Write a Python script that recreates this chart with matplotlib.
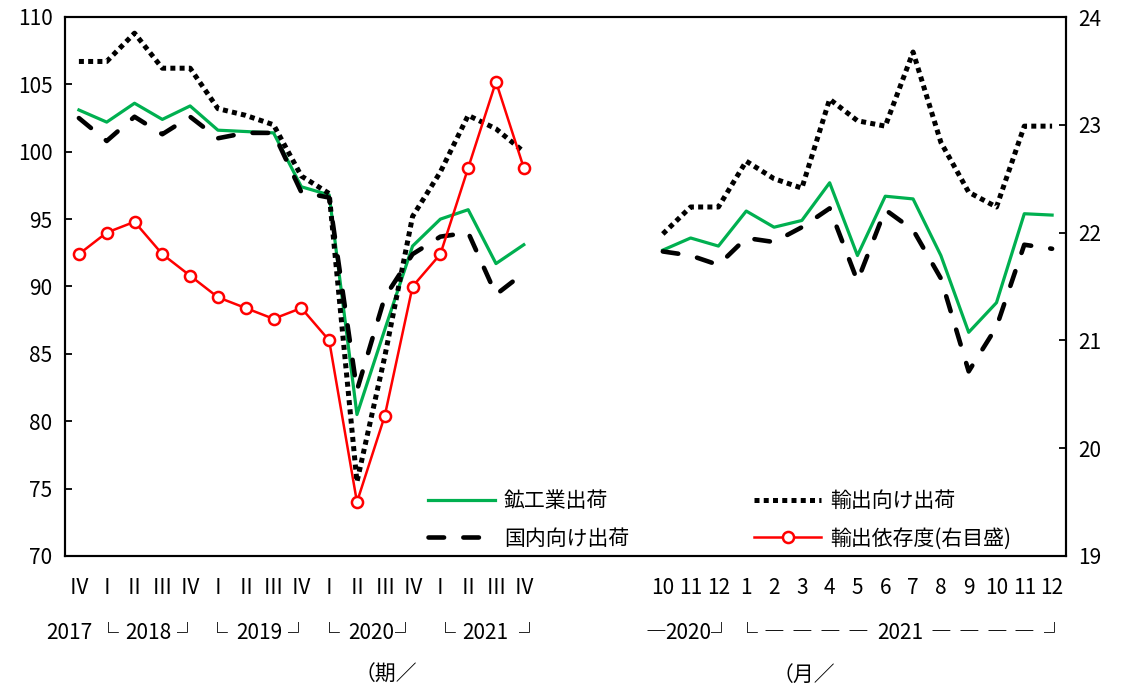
import numpy as np
import matplotlib
matplotlib.use('Agg')
import matplotlib.pyplot as plt

plt.rcParams['font.family'] = ['Noto Sans CJK JP', 'DejaVu Sans']

# quarterly: 2017 IV .. 2021 IV
q_labels = ['Ⅳ', 'Ⅰ', 'Ⅱ', 'Ⅲ', 'Ⅳ', 'Ⅰ', 'Ⅱ', 'Ⅲ', 'Ⅳ', 'Ⅰ', 'Ⅱ', 'Ⅲ', 'Ⅳ', 'Ⅰ', 'Ⅱ', 'Ⅲ', 'Ⅳ']
green_q = [103.1, 102.2, 103.6, 102.4, 103.4, 101.6, 101.5, 101.4, 97.4, 96.8, 80.5, 86.8, 93.0, 95.0, 95.7, 91.7, 93.1]
export_q = [106.7, 106.7, 108.8, 106.2, 106.2, 103.2, 102.7, 102.0, 98.2, 96.9, 75.5, 84.8, 95.2, 98.5, 102.7, 101.7, 100.0]
domestic_q = [102.5, 100.8, 102.6, 101.3, 102.6, 101.0, 101.4, 101.4, 97.0, 96.6, 82.3, 89.2, 92.4, 93.7, 94.0, 89.4, 91.0]
ratio_q = [21.8, 22.0, 22.1, 21.8, 21.6, 21.4, 21.3, 21.2, 21.3, 21.0, 19.5, 20.3, 21.5, 21.8, 22.6, 23.4, 22.6]

# monthly: 2020/10 .. 2021/12
m_labels = ['10', '11', '12', '1', '2', '3', '4', '5', '6', '7', '8', '9', '10', '11', '12']
green_m = [92.7, 93.6, 93.0, 95.6, 94.4, 94.9, 97.7, 92.3, 96.7, 96.5, 92.3, 86.6, 88.8, 95.4, 95.3]
export_m = [93.9, 95.9, 95.9, 99.3, 98.0, 97.3, 103.9, 102.3, 101.9, 107.4, 100.7, 97.0, 95.9, 101.9, 101.9]
domestic_m = [92.6, 92.3, 91.6, 93.6, 93.3, 94.4, 95.8, 90.4, 95.7, 94.2, 90.6, 83.7, 87.0, 93.1, 92.8]

gap = 4
nq, nm = len(q_labels), len(m_labels)
xq = np.arange(nq)
xm = np.arange(nm) + nq + gap
blank = [np.nan] * gap

green = np.array(green_q + blank + green_m)
export = np.array(export_q + blank + export_m)
domestic = np.array(domestic_q + blank + domestic_m)
xall = np.arange(nq + gap + nm)

fig = plt.figure(figsize=(11.21, 6.88), dpi=100)
ax = fig.add_axes([65/1121, 1-556/688, (1066-65)/1121, (556-17)/688])
ax2 = ax.twinx()

l1, = ax.plot(xall, green, color='#00B050', lw=2.3, label='鉱工業出荷')
l2, = ax.plot(xall, export, color='black', lw=3.6, linestyle=(0, (1, 0.85)),
              solid_capstyle='butt', dash_capstyle='butt', label='輸出向け出荷')
l3, = ax.plot(xall, domestic, color='black', lw=3.3, linestyle=(0, (3.4, 4.2)),
              dash_capstyle='round', label='国内向け出荷')
l4, = ax2.plot(xq, ratio_q, color='#FF0000', lw=1.8, marker='o', ms=8,
               mfc='white', mec='#FF0000', mew=1.8, label='輸出依存度(右目盛)')

ax.set_xlim(-0.5, nq + gap + nm - 0.5)
ax.set_ylim(70, 110)
ax.set_yticks(np.arange(70, 111, 5))
ax2.set_ylim(19, 24)
ax2.set_yticks(np.arange(19, 25, 1))

ax.set_xticks(np.concatenate([xq, xm]))
ax.set_xticklabels(q_labels + m_labels)

for a in (ax, ax2):
    for s in a.spines.values():
        s.set_linewidth(1.5)
ax.tick_params(axis='y', direction='in', length=5, width=1.3, labelsize=15, pad=9)
ax2.tick_params(axis='y', direction='in', length=5, width=1.3, labelsize=15, pad=9)
ax.tick_params(axis='x', length=0, labelsize=15, pad=15)

trans = ax.get_xaxis_transform()
yr_y = -0.143
year_bits = [(-0.35, '2017'), (1.05, '└'), (2.5, '2018'), (3.9, '┘'), (5.0, '└'),
             (6.5, '2019'), (7.9, '┘'), (9.0, '└'), (10.5, '2020'), (11.75, '┘'),
             (13.2, '└'), (14.6, '2021'), (16.2, '┘'),
             (20.75, '―'), (21.9, '2020'), (23.1, '┘'), (24.03, '└'),
             (25.0, '―'), (26.0, '―'), (27.0, '―'), (28.0, '―'), (29.55, '2021'),
             (31.0, '―'), (32.0, '―'), (33.0, '―'), (34.0, '―'), (35.07, '┘')]
for xp, t in year_bits:
    ax.text(xp, yr_y, t, transform=trans, ha='center', va='center', fontsize=15)

ax.text(11.04, -0.221, '（期／', transform=trans, ha='center', va='center', fontsize=15)
ax.text(26.08, -0.221, '（月／', transform=trans, ha='center', va='center', fontsize=15)

ax2.legend(handles=[l1, l3, l2, l4], ncol=2, frameon=False, fontsize=15,
           loc='upper left', bbox_to_anchor=(428/1121, 1-490/688),
           bbox_transform=fig.transFigure, borderaxespad=0, borderpad=0,
           handlelength=3.2, handletextpad=0.45, columnspacing=6.0,
           labelspacing=0.75)

fig.savefig('out.png', dpi=100)
